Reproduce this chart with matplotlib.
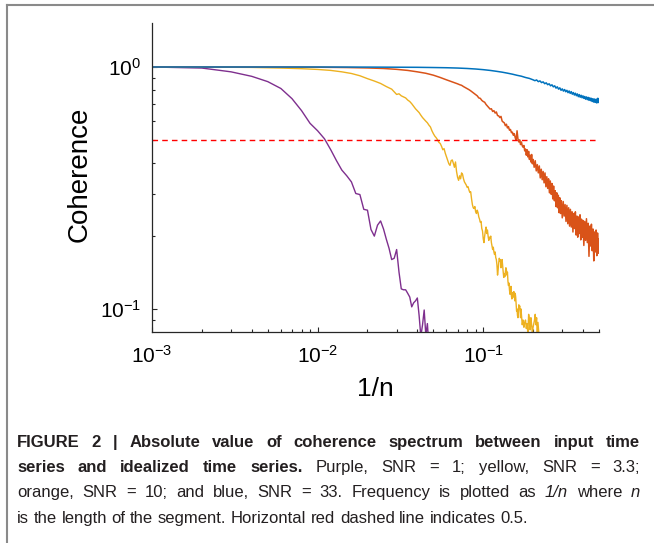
import numpy as np
import matplotlib
matplotlib.use("Agg")
import matplotlib.pyplot as plt
from matplotlib.ticker import LogLocator, LogFormatterMathtext, NullFormatter
from matplotlib.lines import Line2D

plt.rcParams['font.family'] = ['Liberation Sans', 'DejaVu Sans']
plt.rcParams['mathtext.fontset'] = 'custom'
plt.rcParams['mathtext.rm'] = 'Liberation Sans'
plt.rcParams['mathtext.it'] = 'Liberation Sans:italic'
plt.rcParams['mathtext.bf'] = 'Liberation Sans:bold'

# ---- data (x = 1/n, y = |coherence|) ----
purple_x = [0.001, 0.002, 0.003, 0.004, 0.005, 0.006, 0.007, 0.008, 0.009, 0.010,
            0.011, 0.012, 0.013, 0.014, 0.015, 0.016, 0.017, 0.018, 0.019, 0.020,
            0.021, 0.022, 0.023, 0.024, 0.025, 0.026, 0.027, 0.028, 0.029, 0.030,
            0.031, 0.032, 0.033, 0.034, 0.035, 0.036, 0.037, 0.038, 0.039, 0.040,
            0.041, 0.042, 0.043, 0.044, 0.045, 0.046, 0.047]
purple_y = [1.0, 0.99, 0.955, 0.915, 0.87, 0.815, 0.74, 0.66, 0.585, 0.545,
            0.505, 0.455, 0.41, 0.375, 0.355, 0.335, 0.30, 0.297, 0.258, 0.256,
            0.213, 0.200, 0.222, 0.231, 0.214, 0.194, 0.178, 0.160, 0.162, 0.176,
            0.142, 0.121, 0.120, 0.120, 0.116, 0.112, 0.102, 0.106, 0.108, 0.111,
            0.094, 0.077, 0.086, 0.099, 0.078, 0.087, 0.070]

yellow_x = [0.001, 0.002, 0.004, 0.006, 0.008, 0.010, 0.012, 0.014, 0.016, 0.018,
            0.020, 0.022, 0.024, 0.026, 0.028, 0.030, 0.031, 0.032, 0.033, 0.034,
            0.035, 0.036, 0.037, 0.038, 0.039, 0.040, 0.041, 0.042, 0.043, 0.044,
            0.045, 0.046, 0.047, 0.048, 0.049, 0.050, 0.051, 0.052, 0.053, 0.054,
            0.055, 0.056, 0.057, 0.058, 0.059, 0.060, 0.061, 0.062, 0.063, 0.064,
            0.065, 0.066, 0.067, 0.068, 0.069, 0.070, 0.071, 0.072, 0.073, 0.074,
            0.075, 0.076, 0.077, 0.078, 0.079, 0.080, 0.081, 0.082, 0.083, 0.084,
            0.085, 0.086, 0.087, 0.088, 0.089, 0.090, 0.091, 0.092, 0.093, 0.094,
            0.095, 0.096, 0.097, 0.098, 0.099, 0.100, 0.101, 0.102, 0.103, 0.104,
            0.105, 0.106, 0.107, 0.108, 0.109, 0.110, 0.111, 0.112, 0.113, 0.114,
            0.115, 0.116, 0.117, 0.118, 0.119, 0.120, 0.121, 0.122, 0.123, 0.124,
            0.125, 0.126, 0.127, 0.128, 0.129, 0.130, 0.131, 0.132, 0.133, 0.134,
            0.135, 0.136, 0.137, 0.138, 0.139, 0.140, 0.141, 0.142, 0.143, 0.144,
            0.145, 0.146, 0.147, 0.148, 0.149, 0.150, 0.151, 0.152, 0.153, 0.154,
            0.155, 0.156, 0.157, 0.158, 0.159, 0.160, 0.161, 0.162, 0.163, 0.164,
            0.165, 0.166, 0.167, 0.168, 0.169, 0.170, 0.172, 0.174, 0.176, 0.178,
            0.180, 0.182, 0.184, 0.186, 0.188, 0.190, 0.192, 0.194, 0.196, 0.198,
            0.200, 0.204, 0.206, 0.208, 0.210, 0.212, 0.214, 0.216, 0.218]
yellow_y = [1.0, 0.999, 0.996, 0.99, 0.984, 0.977, 0.968, 0.955, 0.94, 0.92,
            0.895, 0.875, 0.855, 0.83, 0.81, 0.77, 0.775, 0.76, 0.752, 0.745,
            0.73, 0.72, 0.705, 0.688, 0.672, 0.66, 0.648, 0.632, 0.618, 0.607,
            0.597, 0.588, 0.575, 0.565, 0.545, 0.53, 0.518, 0.51, 0.50, 0.488,
            0.483, 0.47, 0.455, 0.46, 0.44, 0.425, 0.41, 0.398, 0.392, 0.41,
            0.413, 0.40, 0.385, 0.405, 0.37, 0.35, 0.34, 0.355, 0.345, 0.365,
            0.36, 0.345, 0.335, 0.33, 0.325, 0.318, 0.32, 0.31, 0.303, 0.305,
            0.285, 0.27, 0.262, 0.26, 0.265, 0.252, 0.248, 0.256, 0.25, 0.24,
            0.235, 0.228, 0.23, 0.215, 0.21, 0.195, 0.188, 0.2, 0.21, 0.218,
            0.205, 0.212, 0.2, 0.192, 0.198, 0.196, 0.2, 0.188, 0.182, 0.176,
            0.18, 0.172, 0.168, 0.172, 0.163, 0.16, 0.152, 0.138, 0.145, 0.155,
            0.162, 0.158, 0.16, 0.148, 0.156, 0.16, 0.15, 0.142, 0.135, 0.14,
            0.136, 0.142, 0.148, 0.145, 0.138, 0.142, 0.13, 0.125, 0.128, 0.12,
            0.115, 0.118, 0.124, 0.113, 0.11, 0.115, 0.117, 0.112, 0.118, 0.114,
            0.108, 0.116, 0.112, 0.104, 0.098, 0.1, 0.094, 0.092, 0.097, 0.104,
            0.101, 0.103, 0.098, 0.092, 0.1, 0.095, 0.086, 0.09, 0.084, 0.088,
            0.09, 0.083, 0.087, 0.079, 0.095, 0.09, 0.082, 0.092, 0.086, 0.079,
            0.084, 0.09, 0.095, 0.086, 0.092, 0.078, 0.088, 0.081, 0.075]

orange_x = [0.001, 0.005, 0.010, 0.015, 0.020, 0.025, 0.030, 0.035, 0.040, 0.045,
            0.050, 0.055, 0.060, 0.065, 0.070, 0.072, 0.074, 0.076, 0.078, 0.080,
            0.082, 0.084, 0.086, 0.088, 0.090, 0.092, 0.094, 0.096, 0.098, 0.100,
            0.102, 0.104, 0.106, 0.108, 0.110, 0.112, 0.114, 0.116, 0.118, 0.120,
            0.122, 0.124, 0.126, 0.128, 0.130, 0.132, 0.134, 0.136, 0.138, 0.140,
            0.142, 0.144, 0.146, 0.148, 0.150, 0.152, 0.154, 0.156, 0.158, 0.160,
            0.162, 0.164, 0.166, 0.168, 0.170, 0.172, 0.174, 0.176, 0.178, 0.180,
            0.182, 0.184, 0.186, 0.188, 0.190, 0.192, 0.194, 0.196, 0.198, 0.200,
            0.203, 0.206, 0.209, 0.212, 0.215, 0.218, 0.221, 0.224, 0.227, 0.230,
            0.233, 0.236, 0.239, 0.242, 0.245, 0.248, 0.251, 0.254, 0.257, 0.260,
            0.263, 0.266, 0.269, 0.272, 0.275, 0.278, 0.281, 0.284, 0.287, 0.290,
            0.293, 0.296, 0.300, 0.304, 0.308, 0.312, 0.316, 0.320, 0.324, 0.328,
            0.332, 0.336, 0.340, 0.344, 0.348, 0.352, 0.356, 0.360, 0.364, 0.368,
            0.372, 0.376, 0.380, 0.384, 0.388, 0.392, 0.396, 0.400, 0.405, 0.410,
            0.415, 0.420, 0.425, 0.430, 0.435, 0.440, 0.445, 0.450, 0.455, 0.460,
            0.465, 0.470, 0.475, 0.480, 0.485, 0.490, 0.495, 0.500]
orange_y = [1.0, 0.9995, 0.998, 0.995, 0.991, 0.986, 0.978, 0.968, 0.955, 0.942,
            0.925, 0.905, 0.885, 0.868, 0.852, 0.845, 0.84, 0.83, 0.822, 0.815,
            0.806, 0.797, 0.787, 0.778, 0.768, 0.76, 0.745, 0.742, 0.728, 0.72,
            0.715, 0.70, 0.69, 0.68, 0.67, 0.672, 0.655, 0.66, 0.645, 0.652,
            0.63, 0.628, 0.618, 0.625, 0.598, 0.592, 0.588, 0.572, 0.58, 0.56,
            0.567, 0.548, 0.552, 0.535, 0.538, 0.522, 0.53, 0.51, 0.498, 0.545,
            0.505, 0.49, 0.5, 0.478, 0.49, 0.472, 0.466, 0.474, 0.45, 0.458,
            0.432, 0.455, 0.425, 0.448, 0.415, 0.432, 0.405, 0.435, 0.398, 0.415,
            0.385, 0.41, 0.372, 0.395, 0.365, 0.39, 0.348, 0.378, 0.342, 0.37,
            0.332, 0.365, 0.32, 0.352, 0.315, 0.345, 0.302, 0.338, 0.298, 0.33,
            0.285, 0.322, 0.28, 0.308, 0.265, 0.302, 0.262, 0.295, 0.25, 0.288,
            0.248, 0.28, 0.238, 0.278, 0.242, 0.27, 0.23, 0.268, 0.225, 0.262,
            0.22, 0.258, 0.218, 0.252, 0.208, 0.248, 0.215, 0.252, 0.202, 0.242,
            0.198, 0.24, 0.205, 0.245, 0.193, 0.235, 0.198, 0.232, 0.183, 0.23,
            0.192, 0.236, 0.188, 0.226, 0.165, 0.22, 0.182, 0.224, 0.174, 0.214,
            0.158, 0.208, 0.172, 0.212, 0.166, 0.206, 0.17, 0.195]

blue_x = [0.001, 0.010, 0.020, 0.030, 0.040, 0.050, 0.060, 0.070, 0.080, 0.090,
          0.100, 0.110, 0.120, 0.130, 0.140, 0.150, 0.160, 0.170, 0.180, 0.190,
          0.200, 0.205, 0.210, 0.215, 0.220, 0.225, 0.230, 0.235, 0.240, 0.245,
          0.250, 0.255, 0.260, 0.265, 0.270, 0.275, 0.280, 0.285, 0.290, 0.295,
          0.300, 0.305, 0.310, 0.315, 0.320, 0.325, 0.330, 0.335, 0.340, 0.345,
          0.350, 0.355, 0.360, 0.365, 0.370, 0.375, 0.380, 0.385, 0.390, 0.395,
          0.400, 0.405, 0.410, 0.415, 0.420, 0.425, 0.430, 0.435, 0.440, 0.445,
          0.450, 0.455, 0.460, 0.465, 0.470, 0.475, 0.480, 0.485, 0.490, 0.495,
          0.500]
blue_y = [1.0, 1.0, 0.999, 0.998, 0.997, 0.995, 0.993, 0.99, 0.986, 0.981,
          0.975, 0.968, 0.96, 0.952, 0.943, 0.934, 0.924, 0.916, 0.905, 0.897,
          0.885, 0.878, 0.884, 0.87, 0.876, 0.862, 0.868, 0.853, 0.86, 0.845,
          0.852, 0.836, 0.844, 0.828, 0.836, 0.818, 0.828, 0.81, 0.82, 0.801,
          0.812, 0.795, 0.807, 0.79, 0.801, 0.783, 0.796, 0.778, 0.791, 0.772,
          0.784, 0.766, 0.779, 0.761, 0.774, 0.754, 0.769, 0.75, 0.764, 0.746,
          0.76, 0.742, 0.755, 0.736, 0.752, 0.733, 0.749, 0.728, 0.746, 0.726,
          0.742, 0.72, 0.739, 0.716, 0.737, 0.714, 0.735, 0.71, 0.742, 0.713,
          0.74]

threshold = 0.5

caption = [
    [("FIGURE 2 | Absolute value of coherence spectrum between input time", "bold", "normal")],
    [("series and idealized time series.", "bold", "normal"),
     ("Purple, SNR = 1; yellow, SNR = 3.3;", "normal", "normal")],
    [("orange, SNR = 10; and blue, SNR = 33. Frequency is plotted as", "normal", "normal"),
     ("1/n", "normal", "italic"), ("where", "normal", "normal"), ("n", "normal", "italic")],
    [("is the length of the segment. Horizontal red dashed line indicates 0.5.", "normal", "normal")],
]

W, H = 654, 543
fig = plt.figure(figsize=(W / 100, H / 100), dpi=100)
ax = fig.add_axes([152 / W, 1 - 332 / H, (599 - 152) / W, (332 - 23) / H])

ax.plot(purple_x, purple_y, color='#7E2F8E', lw=1.0)
ax.plot(yellow_x, yellow_y, color='#EDB120', lw=1.0)
ax.plot(orange_x, orange_y, color='#D95319', lw=1.1)
ax.plot(blue_x, blue_y, color='#0072BD', lw=1.1)
ax.plot([blue_x[0], blue_x[-1]], [threshold, threshold], color='#FF0000', lw=1.0,
        linestyle=(0, (4, 3)))

ax.set_xscale('log')
ax.set_yscale('log')
ax.set_xlim(1e-3, 0.5)
ax.set_ylim(0.0803, 1.52)

for s in ['top', 'right']:
    ax.spines[s].set_visible(False)
for s in ['left', 'bottom']:
    ax.spines[s].set_color('#262626')
    ax.spines[s].set_linewidth(0.9)

ax.xaxis.set_major_locator(LogLocator(base=10, numticks=10))
ax.xaxis.set_minor_locator(LogLocator(base=10, subs=np.arange(2, 10), numticks=10))
ax.yaxis.set_major_locator(LogLocator(base=10, numticks=10))
ax.yaxis.set_minor_locator(LogLocator(base=10, subs=np.arange(2, 10), numticks=10))
ax.xaxis.set_major_formatter(LogFormatterMathtext())
ax.yaxis.set_major_formatter(LogFormatterMathtext())
ax.xaxis.set_minor_formatter(NullFormatter())
ax.yaxis.set_minor_formatter(NullFormatter())
ax.tick_params(which='both', direction='in', colors='#262626', width=0.8)
ax.tick_params(which='major', length=3.5, labelsize=15)
ax.tick_params(which='minor', length=2)
ax.tick_params(axis='x', which='major', pad=9, labelcolor='black')
ax.tick_params(axis='y', which='major', pad=8, labelcolor='black')

ax.set_xlabel('1/n', fontsize=19)
ax.set_ylabel('Coherence', fontsize=20)
ax.xaxis.set_label_coords(0.5, (332 - 377) / 309)
ax.yaxis.set_label_coords((93 - 152) / 447, (332 - 174) / 309)

# grey frame of the figure box (top and left edges)
fig.add_artist(Line2D([7 / W, 1], [1 - 5 / H, 1 - 5 / H], transform=fig.transFigure,
                      color='#8a8a8a', lw=1.5))
fig.add_artist(Line2D([7 / W, 7 / W], [1 - 5 / H, 0], transform=fig.transFigure,
                      color='#8a8a8a', lw=1.5))

# caption, placed word by word so full lines can be justified
renderer = fig.canvas.get_renderer()
cap_fs = 12
x_left, x_right = 17, 640
line_base = [447, 472, 497, 523]


def put_line(runs, ypix, justify):
    words = []
    for txt, weight, style in runs:
        for wd in txt.split(' '):
            if wd:
                words.append((wd, weight, style))
    arts = []
    total = 0
    for wd, weight, style in words:
        t = fig.text(0, 1 - ypix / H, wd, fontsize=cap_fs, fontweight=weight,
                     fontstyle=style, va='baseline', ha='left', color='#231f20')
        w = t.get_window_extent(renderer).width
        arts.append((t, w))
        total += w
    if justify and len(arts) > 1:
        gap = (x_right - x_left - total) / (len(arts) - 1)
    else:
        gap = cap_fs * 100 / 72 * 0.278
    x = x_left
    for t, w in arts:
        t.set_x(x / W)
        x += w + gap


for i, runs in enumerate(caption):
    put_line(runs, line_base[i], justify=(i < len(caption) - 1))

fig.savefig('out.png', dpi=100)
